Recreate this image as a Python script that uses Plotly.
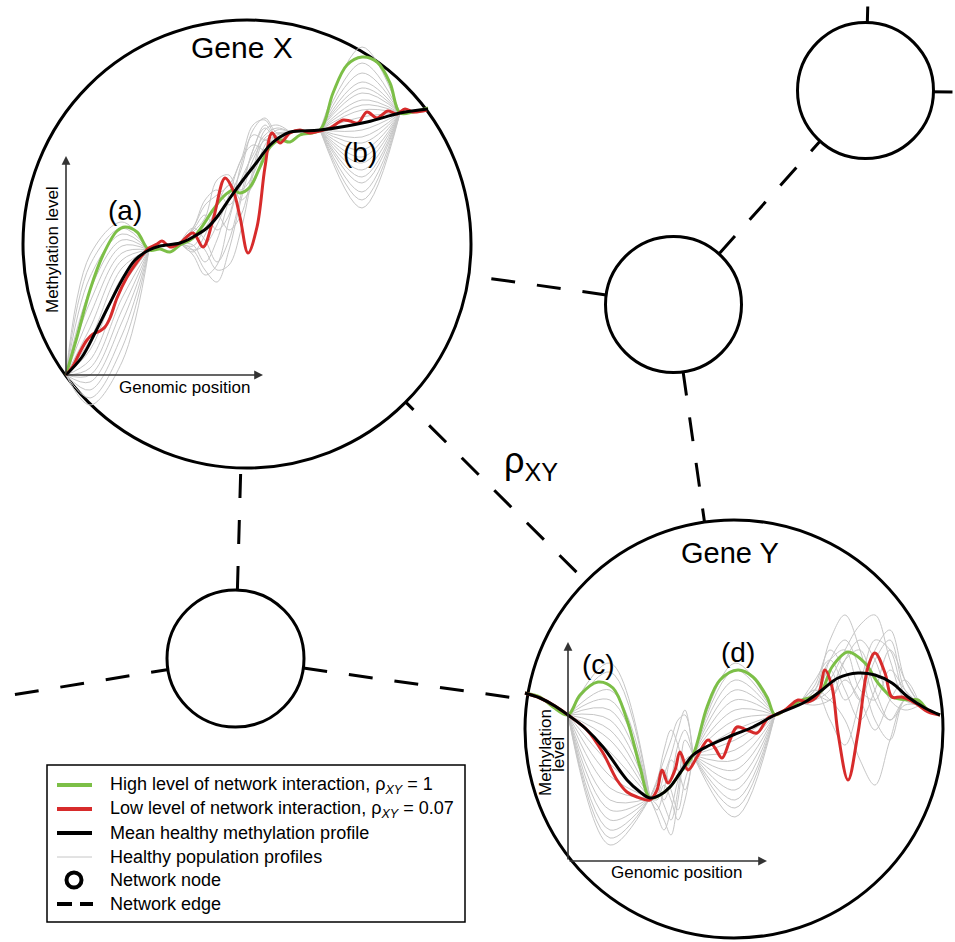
import plotly.graph_objects as go

W, H = 955, 942

# ---------------------------------------------------------------------------
# DATA (arbitrary units: genomic position, methylation level)
# ---------------------------------------------------------------------------
# Gene X
gx_mean_pos = [0, 16, 29, 42, 56, 69, 83, 94, 114, 127, 141, 151, 164, 177, 191, 204, 214, 224, 234, 254, 301, 334, 362]
gx_mean_lvl = [0, 18, 42, 68, 95, 115, 125, 129, 132, 138, 147, 158, 177, 195, 213, 230, 238, 243, 244, 245, 253, 262, 266]

gx_high_pos = [0, 11, 24, 37, 51, 59, 71, 83, 94, 104, 114, 127, 147, 157, 167, 174, 184, 194, 204, 214, 224, 234, 254,
               267, 281, 296, 311, 324, 334, 347, 362]
gx_high_lvl = [0, 38, 85, 120, 144, 148, 143, 125, 126, 123, 130, 137, 165, 178, 185, 182, 188, 208, 228, 235, 233, 240, 245,
               282, 310, 318, 313, 292, 262, 263, 267]

gx_low_pos = [0, 7, 14, 21, 27, 34, 39, 44, 51, 61, 71, 79, 83, 91, 96, 104, 114, 127, 137, 147, 159, 167, 174, 182, 191,
              199, 206, 214, 224, 234, 244, 254, 264, 277, 284, 292, 301, 311, 322, 331, 339, 347, 361]
gx_low_lvl = [0, 9, 23, 35, 41, 44, 48, 57, 77, 98, 113, 123, 127, 131, 134, 128, 132, 142, 128, 155, 197, 185, 158, 122, 148,
              208, 242, 232, 242, 245, 242, 244, 247, 255, 254, 252, 263, 257, 264, 261, 266, 263, 265]

# healthy population, region (a): values read at two interior positions
gx_pop_a_pos = [0, 24, 56, 83]
gx_pop_a_v1 = [120, 110, 98, 85, 73, 60, 47, 35, 25, 15, 7, 0, -7, -15, -23, -30]
gx_pop_a_v2 = [153, 147, 141, 135, 129, 122, 115, 107, 98, 88, 77, 65, 53, 40, 27, 13]
# region (b): peak values
gx_pop_b_pos = [254, 296, 334]
gx_pop_b_peak = [328, 312, 302, 293, 287, 282, 275, 270, 265, 258, 245, 238, 232, 225, 218, 212, 205, 198, 192, 183, 175, 167]
# middle (noisy) region
gx_pop_mid_pos = [114, 127, 139, 151, 163, 175, 187, 199, 211, 224]
gx_pop_mid = [
    [132, 125, 105, 93, 125, 175, 215, 235, 238, 243],
    [132, 147, 170, 180, 190, 215, 250, 255, 238, 243],
    [132, 130, 113, 135, 175, 205, 245, 257, 242, 243],
    [132, 147, 135, 113, 135, 180, 225, 247, 235, 243],
    [132, 123, 140, 170, 190, 185, 200, 230, 245, 243],
    [132, 145, 160, 145, 160, 210, 240, 235, 233, 243],
    [132, 120, 100, 110, 155, 195, 220, 240, 247, 243],
    [132, 143, 157, 195, 200, 175, 190, 225, 240, 243],
    [132, 129, 147, 160, 145, 160, 205, 245, 250, 243],
    [132, 139, 125, 105, 110, 145, 200, 237, 242, 243],
    [132, 147, 175, 185, 170, 190, 225, 250, 237, 243],
    [132, 125, 130, 150, 180, 215, 230, 225, 235, 243],
]

# Gene Y
gy_mean_pos = [-43, -28, -13, 0, 17, 35, 59, 72, 82, 92, 102, 112, 125, 142, 165, 185, 207, 237, 254, 270, 290, 307, 324,
               340, 357, 372]
gy_mean_lvl = [168, 163, 155, 146, 133, 114, 81, 69, 63, 66, 74, 88, 106, 116, 126, 134, 146, 159, 171, 183, 188, 186, 178,
               164, 153, 146]

gy_high_pos = [-43, -28, -15, 0, 12, 30, 45, 59, 72, 82, 92, 102, 112, 125, 139, 152, 170, 185, 199, 207, 217, 234, 244,
               254, 264, 280, 297, 310, 324, 340, 350, 360, 372]
gy_high_lvl = [168, 164, 154, 146, 166, 179, 173, 141, 94, 63, 66, 74, 88, 106, 154, 181, 191, 184, 164, 146, 151, 161, 164,
               171, 194, 209, 198, 178, 164, 161, 161, 151, 146]

gy_low_pos = [-43, -28, -13, 0, 19, 35, 49, 59, 69, 82, 89, 94, 100, 107, 112, 120, 129, 140, 147, 154, 162, 169, 179, 189,
              200, 207, 217, 230, 240, 250, 257, 264, 270, 280, 290, 300, 307, 317, 324, 334, 347, 360, 372]
gy_low_lvl = [168, 163, 155, 146, 131, 108, 81, 69, 64, 61, 71, 91, 78, 91, 109, 91, 104, 121, 113, 103, 121, 134, 131, 128,
              143, 146, 151, 161, 159, 166, 191, 174, 128, 81, 128, 194, 208, 188, 164, 164, 158, 149, 146]

gy_pop_c_pos = [0, 42, 82]
gy_pop_c_peak = [198, 189, 171, 161, 151, 141, 131, 121, 109, 97, 85, 73, 61, 51, 41, 31, 23, 16]
gy_pop_d_pos = [125, 167, 207]
gy_pop_d_peak = [198, 191, 181, 171, 161, 151, 141, 131, 121, 111, 101, 91, 81, 71, 61, 53, 44]
gy_pop_mid_pos = [82, 89, 96, 103, 110, 117, 125]
gy_pop_mid = [
    [63, 81, 101, 121, 141, 146, 106],
    [63, 46, 31, 51, 81, 101, 106],
    [63, 76, 61, 81, 116, 131, 106],
    [63, 51, 71, 101, 91, 71, 106],
    [63, 71, 91, 71, 51, 81, 106],
    [63, 56, 41, 26, 61, 101, 106],
    [63, 79, 111, 131, 116, 91, 106],
    [63, 61, 76, 61, 41, 61, 106],
    [63, 73, 56, 41, 71, 121, 106],
    [63, 66, 86, 106, 131, 151, 106],
]
gy_pop_right_pos = [232, 247, 262, 277, 292, 307, 322, 337, 352]
gy_pop_right = [
    [158, 171, 221, 246, 211, 161, 141, 156, 156],
    [158, 161, 181, 211, 236, 246, 201, 161, 156],
    [158, 181, 201, 171, 141, 171, 211, 181, 156],
    [158, 166, 161, 201, 221, 201, 161, 151, 156],
    [158, 171, 141, 116, 161, 211, 231, 181, 156],
    [158, 161, 201, 221, 191, 141, 121, 161, 156],
    [158, 171, 161, 141, 101, 76, 121, 161, 156],
    [158, 176, 211, 191, 161, 201, 221, 171, 156],
    [158, 161, 171, 201, 211, 171, 141, 161, 156],
    [158, 166, 191, 161, 181, 221, 211, 166, 156],
    [158, 156, 161, 181, 161, 131, 161, 181, 156],
    [158, 171, 201, 211, 171, 161, 191, 171, 156],
]

legend_labels = [
    "High level of network interaction, ρ<sub><i>XY</i></sub> = 1",
    "Low level of network interaction, ρ<sub><i>XY</i></sub> = 0.07",
    "Mean healthy methylation profile",
    "Healthy population profiles",
    "Network node",
    "Network edge",
]

# ---------------------------------------------------------------------------
# STYLE / LAYOUT
# ---------------------------------------------------------------------------
GREEN = "#7cbf47"
RED = "#d72b2b"
BLACK = "#000000"
GREY = "#c6c6c6"
AXC = "#333333"
FONT = "Liberation Sans, Arial, Helvetica, sans-serif"

GX_ORIGIN, GX_BOX = (66, 375), (20, 18, 476, 470)
GY_ORIGIN, GY_BOX = (568, 861), (520, 515, 950, 942)


def panel(origin, box):
    ox, oy = origin
    l, t, r, b = box
    return [l / W, r / W], [1 - b / H, 1 - t / H], [l - ox, r - ox], [oy - b, oy - t]


def P(px, py):
    return px / W, 1 - py / H


fig = go.Figure()


def add_curve(x, y, color, width, xa, ya):
    fig.add_trace(go.Scatter(x=x, y=y, mode="lines", xaxis=xa, yaxis=ya,
                             line=dict(color=color, width=width, shape="spline", smoothing=1.0),
                             hoverinfo="skip", showlegend=False))


def join(curves):
    xs, ys = [], []
    for cx, cy in curves:
        xs += list(cx) + [None]
        ys += list(cy) + [None]
    return xs, ys


gx_mean_at = dict(zip(gx_mean_pos, gx_mean_lvl))
gy_mean_at = dict(zip(gy_mean_pos, gy_mean_lvl))

# --- Gene X population
curves = []
for v1, v2 in zip(gx_pop_a_v1, gx_pop_a_v2):
    p = gx_pop_a_pos
    curves.append((p, [gx_mean_at[p[0]], v1, v2, gx_mean_at[p[-1]]]))
for v in gx_pop_b_peak:
    p = gx_pop_b_pos
    curves.append((p, [gx_mean_at[p[0]], v, gx_mean_at[p[-1]]]))
for c in gx_pop_mid:
    curves.append((gx_pop_mid_pos, c))
curves.append((gx_mean_pos, gx_mean_lvl))
xs, ys = join(curves)
add_curve(xs, ys, GREY, 1, "x", "y")
add_curve(gx_high_pos, gx_high_lvl, GREEN, 3, "x", "y")
add_curve(gx_low_pos, gx_low_lvl, RED, 3, "x", "y")
add_curve(gx_mean_pos, gx_mean_lvl, BLACK, 3, "x", "y")

# --- Gene Y population
curves = []
for v in gy_pop_c_peak:
    p = gy_pop_c_pos
    curves.append((p, [gy_mean_at[p[0]], v, gy_mean_at[p[-1]]]))
for v in gy_pop_d_peak:
    p = gy_pop_d_pos
    curves.append((p, [gy_mean_at[p[0]], v, gy_mean_at[p[-1]]]))
for c in gy_pop_mid:
    curves.append((gy_pop_mid_pos, c))
for c in gy_pop_right:
    curves.append((gy_pop_right_pos, c))
curves.append((gy_mean_pos, gy_mean_lvl))
xs, ys = join(curves)
add_curve(xs, ys, GREY, 1, "x2", "y2")
add_curve(gy_high_pos, gy_high_lvl, GREEN, 3, "x2", "y2")
add_curve(gy_low_pos, gy_low_lvl, RED, 3, "x2", "y2")
add_curve(gy_mean_pos, gy_mean_lvl, BLACK, 3, "x2", "y2")

# --- network geometry (pixels)
nodes = {
    "X": (247, 244, 224),
    "Y": (734, 729, 209),
    "TR": (865.5, 90.5, 68),
    "M": (673.5, 304.5, 68),
    "L": (235.5, 658.5, 68.5),
}
# (from node, to node or far point, hidden offset inside start node)
edges = [
    ("M", "X", 0), ("M", "TR", 0), ("M", "Y", 0), ("L", "X", 0), ("L", "Y", 0),
    ("X", "Y", 13), ("L", (0, 697), 7), ("TR", (869, -40), 8), ("TR", (1000, 93), 5),
]
shapes = []
for a, b, off in edges:
    ax_, ay_, ar = nodes[a]
    bx, by = (nodes[b][0], nodes[b][1]) if isinstance(b, str) else b
    dx, dy = bx - ax_, by - ay_
    d = (dx * dx + dy * dy) ** 0.5
    ux, uy = dx / d, dy / d
    sx, sy = ax_ + ux * (ar - off), ay_ + uy * (ar - off)
    x0, y0 = P(sx, sy)
    x1, y1 = P(bx, by)
    shapes.append(dict(type="line", xref="paper", yref="paper", x0=x0, y0=y0, x1=x1, y1=y1,
                       line=dict(color=BLACK, width=3, dash="24px,22px"), layer="below"))
for cx, cy, r in nodes.values():
    x0, y1 = P(cx - r, cy - r)
    x1, y0 = P(cx + r, cy + r)
    shapes.append(dict(type="circle", xref="paper", yref="paper", x0=x0, y0=y0, x1=x1, y1=y1,
                       line=dict(color=BLACK, width=3), fillcolor="white", layer="below"))

# --- legend box & icons
lx0, ly0 = P(47, 765)
lx1, ly1 = P(465, 922)
shapes.append(dict(type="rect", xref="paper", yref="paper", x0=lx0, y0=ly1, x1=lx1, y1=ly0,
                   line=dict(color=BLACK, width=1.5), fillcolor="white", layer="above"))
row_y = [785, 809, 833, 857, 880, 904]
icon_style = [(GREEN, 4, "solid"), (RED, 4, "solid"), (BLACK, 4, "solid"), (GREY, 1, "solid")]
for (col, wd, ds), ry in zip(icon_style, row_y):
    a0, b0 = P(57, ry)
    a1, b1 = P(92, ry)
    shapes.append(dict(type="line", xref="paper", yref="paper", x0=a0, y0=b0, x1=a1, y1=b1,
                       line=dict(color=col, width=wd, dash=ds), layer="above"))
a0, b1 = P(74 - 7.5, row_y[4] - 7.5)
a1, b0 = P(74 + 7.5, row_y[4] + 7.5)
shapes.append(dict(type="circle", xref="paper", yref="paper", x0=a0, y0=b0, x1=a1, y1=b1,
                   line=dict(color=BLACK, width=4), fillcolor="white", layer="above"))
a0, b0 = P(57, row_y[5])
a1, b1 = P(93, row_y[5])
shapes.append(dict(type="line", xref="paper", yref="paper", x0=a0, y0=b0, x1=a1, y1=b1,
                   line=dict(color=BLACK, width=4, dash="15px,8px"), layer="above"))

# --- annotations
ann = []


def txt(text, x, y, size, xref="paper", yref="paper", angle=0, xanchor="center", color=BLACK):
    ann.append(dict(text=text, x=x, y=y, xref=xref, yref=yref, showarrow=False, textangle=angle,
                    xanchor=xanchor, yanchor="middle", font=dict(family=FONT, size=size, color=color)))


def arrow(x, y, xr, yr):
    ann.append(dict(text="", x=x, y=y, ax=0, ay=0, xref=xr, yref=yr, axref=xr, ayref=yr,
                    showarrow=True, arrowhead=2, arrowsize=1.1, arrowwidth=1.6, arrowcolor=AXC, standoff=0))


# axes arrows
arrow(197, 0, "x", "y")
arrow(0, 219, "x", "y")
arrow(199, 0, "x2", "y2")
arrow(0, 219, "x2", "y2")

x, y = P(242, 48)
txt("Gene X", x, y, 30)
x, y = P(730, 553)
txt("Gene Y", x, y, 29)

txt("Genomic position", 118.5, -12, 17, "x", "y")
txt("Methylation level", -14, 125, 17, "x", "y", angle=-90)
txt("Genomic position", 108, -11, 17, "x2", "y2")
txt("Methylation", -23, 108, 17, "x2", "y2", angle=-90)
txt("level", -10, 106, 17, "x2", "y2", angle=-90)

txt("(a)", 59, 165, 28, "x", "y")
txt("(b)", 294, 223, 28, "x", "y")
txt("(c)", 30, 197, 28, "x2", "y2")
txt("(d)", 170, 209, 28, "x2", "y2")

x, y = P(531, 463)
txt("ρ<sub>XY</sub>", x, y, 36)

for lab, ry in zip(legend_labels, row_y):
    x, y = P(108, ry)
    txt(lab, x, y, 18, xanchor="left")

xd1, yd1, xr1, yr1 = panel(GX_ORIGIN, GX_BOX)
xd2, yd2, xr2, yr2 = panel(GY_ORIGIN, GY_BOX)
ax_common = dict(visible=False, fixedrange=True, showgrid=False, zeroline=False)

fig.update_layout(
    width=W, height=H, margin=dict(l=0, r=0, t=0, b=0),
    paper_bgcolor="white", plot_bgcolor="rgba(0,0,0,0)",
    xaxis=dict(domain=xd1, range=xr1, anchor="y", **ax_common),
    yaxis=dict(domain=yd1, range=yr1, anchor="x", **ax_common),
    xaxis2=dict(domain=xd2, range=xr2, anchor="y2", **ax_common),
    yaxis2=dict(domain=yd2, range=yr2, anchor="x2", **ax_common),
    shapes=shapes, annotations=ann, showlegend=False,
    font=dict(family=FONT),
)

fig.write_html("out.html", config={"displayModeBar": False},
               post_script="document.body.style.margin='0px';")
